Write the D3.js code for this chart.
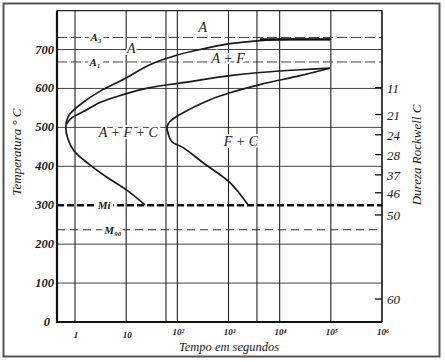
<!DOCTYPE html>
<html>
<head>
<meta charset="utf-8">
<script src="https://cdn.jsdelivr.net/npm/d3@7/dist/d3.min.js"></script>
<style>
  body { margin: 0; background: #fff; }
  text { font-family: "Liberation Serif", "DejaVu Serif", serif; font-style: italic; fill: #1a1a1a; }
</style>
</head>
<body>
<div id="chart"></div>
<script>
'use strict';

const w = 445;
const h = 362;

// temperature ticks (left axis)
const tempTicks = [0, 100, 200, 300, 400, 500, 600, 700];
// horizontal grid lines
const tempGrid = [100, 200, 400, 500, 600, 700];
// vertical grid lines (seconds)
const timeGrid = [1, 10, 60, 100, 1000, 3600, 10000, 100000];
// bottom axis
const timeTicks = [1, 10, 100, 1000, 10000, 100000, 1000000];
const timeTickLabels = ["1", "10", "10²", "10³", "10⁴", "10⁵", "10⁶"];
// right axis: Rockwell C hardness against temperature
const hardnessLabels = ["11", "21", "24", "28", "37", "46", "50", "60"];
const hardnessTemps = [602, 533, 481, 430, 378, 332, 275, 59];

// critical temperatures
const critNames = ["A₃", "A₁", "Mi", "M₉₀"];
const critTemps = [731, 668, 300, 237];

// curves as [time s, temperature °C]
const startCurve = [
  [23.3, 301], [10, 340], [4.2, 372], [1.9, 405], [0.95, 440], [0.72, 472],
  [0.66, 500], [0.70, 520], [0.80, 535], [1.43, 564], [3.5, 597], [8.7, 623],
  [29, 661], [90, 684], [277, 700], [1070, 715], [4120, 723], [16000, 726], [96000, 726]
];
const pearliteStart = [
  [0.68, 508], [0.87, 525], [1.43, 540], [3.08, 564], [8.7, 584], [29, 602],
  [129, 615], [1070, 633], [4120, 641], [25000, 648], [96000, 652]
];
const endCurve = [
  [2400, 301], [1070, 358], [320, 409], [130, 448], [78, 463], [66, 484],
  [63, 502], [72, 515], [113, 533], [435, 571], [1070, 589], [4120, 610],
  [25000, 633], [96000, 652]
];

// region labels: [text, time, temperature]
const regionNames = ["A", "A", "A + F", "A + F + C", "F + C"];
const regionTimes = [316, 12.6, 980, 11, 1750];
const regionTemps = [757, 705, 677, 489, 466];

const margin = { left: 57, right: 63, top: 10, bottom: 40 };

const x = d3.scaleLog()
  .domain([Math.pow(10, -18 / 51.17), 1e6])
  .range([margin.left, w - margin.right]);
const y = d3.scaleLinear()
  .domain([0, 800])
  .range([h - margin.bottom, margin.top + 0.6]);

const svg = d3.select("#chart").append("svg")
  .attr("width", w)
  .attr("height", h);

svg.append("rect")
  .attr("width", w).attr("height", h).attr("fill", "#fff");

// outer frame of the scan
svg.append("rect")
  .attr("x", 3.5).attr("y", 3.5)
  .attr("width", 436).attr("height", 353)
  .attr("fill", "none").attr("stroke", "#555").attr("stroke-width", 2);

const x0 = x.range()[0], x1 = x.range()[1];
const y0 = y.range()[0], y1 = y.range()[1];

// grid
svg.append("g").selectAll("line")
  .data(tempGrid)
  .join("line")
  .attr("x1", x0).attr("x2", x1)
  .attr("y1", d => y(d)).attr("y2", d => y(d))
  .attr("stroke", "#444").attr("stroke-width", 1);

svg.append("g").selectAll("line")
  .data(timeGrid)
  .join("line")
  .attr("x1", d => x(d)).attr("x2", d => x(d))
  .attr("y1", y0).attr("y2", y1)
  .attr("stroke", "#222").attr("stroke-width", 1.1);

// critical lines
const critStyle = [
  { dash: "10,4", width: 1, color: "#444" },
  { dash: "10,4", width: 1, color: "#444" },
  { dash: "7,3", width: 2.6, color: "#111" },
  { dash: "8,5", width: 1.2, color: "#333" }
];
svg.append("g").selectAll("line")
  .data(critTemps)
  .join("line")
  .attr("x1", x0).attr("x2", x1)
  .attr("y1", d => y(d)).attr("y2", d => y(d))
  .attr("stroke", (d, i) => critStyle[i].color)
  .attr("stroke-width", (d, i) => critStyle[i].width)
  .attr("stroke-dasharray", (d, i) => critStyle[i].dash);

// curves
const line = d3.line()
  .x(d => x(d[0]))
  .y(d => y(d[1]))
  .curve(d3.curveCatmullRom.alpha(0.5));

svg.append("g").selectAll("path")
  .data([startCurve, pearliteStart, endCurve])
  .join("path")
  .attr("d", line)
  .attr("fill", "none")
  .attr("stroke", "#1a1a1a")
  .attr("stroke-width", 1.7);

// thick flat top of the start curve
svg.append("line")
  .attr("x1", x(4120)).attr("x2", x(100000))
  .attr("y1", y(726)).attr("y2", y(726))
  .attr("stroke", "#111").attr("stroke-width", 2.2);

// axes frame
svg.append("path")
  .attr("d", `M${x0},${y1}H${x1}`)
  .attr("stroke", "#222").attr("stroke-width", 1.2);
svg.append("path")
  .attr("d", `M${x1},${y1}V${y0}`)
  .attr("stroke", "#111").attr("stroke-width", 1.6);
svg.append("path")
  .attr("d", `M${x0},${y1}V${y0}H${x1}`)
  .attr("fill", "none")
  .attr("stroke", "#111").attr("stroke-width", 2.2);

// critical labels with a white break in the dashed line
const critLabelTimes = [2.57, 2.46, 3.7, 5.5];
svg.append("g").selectAll("text")
  .data(critNames)
  .join("text")
  .attr("x", (d, i) => x(critLabelTimes[i]))
  .attr("y", (d, i) => y(critTemps[i]) + 4)
  .attr("text-anchor", "middle")
  .attr("font-size", 11)
  .attr("font-weight", "bold")
  .attr("stroke", "#fff").attr("stroke-width", 6)
  .attr("paint-order", "stroke")
  .text(d => d);

// region labels
svg.append("g").selectAll("text")
  .data(regionNames)
  .join("text")
  .attr("x", (d, i) => x(regionTimes[i]))
  .attr("y", (d, i) => y(regionTemps[i]) + 5)
  .attr("text-anchor", "middle")
  .attr("font-size", 14)
  .attr("stroke", "#fff").attr("stroke-width", 4)
  .attr("paint-order", "stroke")
  .text(d => d);

// left axis labels
svg.append("g").selectAll("text")
  .data(tempTicks)
  .join("text")
  .attr("x", d => d === 0 ? 50 : 54)
  .attr("y", d => y(d) + 4)
  .attr("text-anchor", "end")
  .attr("font-size", 12.5)
  .attr("font-weight", "bold")
  .attr("fill", "#333")
  .text(d => d);

// bottom axis labels
svg.append("g").selectAll("text")
  .data(timeTicks)
  .join("text")
  .attr("x", d => x(d) + 1)
  .attr("y", (d, i) => i < 2 ? 338 : 335)
  .attr("text-anchor", "middle")
  .attr("font-size", 9)
  .attr("font-weight", "bold")
  .text((d, i) => timeTickLabels[i]);

// right axis: hardness ticks
const hard = svg.append("g");
hard.selectAll("line")
  .data(hardnessTemps)
  .join("line")
  .attr("x1", x1 - 7).attr("x2", x1)
  .attr("y1", d => y(d)).attr("y2", d => y(d))
  .attr("stroke", "#111").attr("stroke-width", 1.3);
hard.selectAll("text")
  .data(hardnessTemps)
  .join("text")
  .attr("x", x1 + 5)
  .attr("y", d => y(d) + 5)
  .attr("font-size", 13)
  .text((d, i) => hardnessLabels[i]);

// axis titles
svg.append("text")
  .attr("transform", `translate(21,${152}) rotate(-90)`)
  .attr("text-anchor", "middle")
  .attr("font-size", 13)
  .text("Temperatura ° C");

svg.append("text")
  .attr("transform", `translate(421,${155}) rotate(-90)`)
  .attr("text-anchor", "middle")
  .attr("font-size", 13)
  .text("Dureza Rockwell C");

svg.append("text")
  .attr("x", 229).attr("y", 351)
  .attr("text-anchor", "middle")
  .attr("font-size", 12.5)
  .text("Tempo em segundos");
</script>
</body>
</html>
